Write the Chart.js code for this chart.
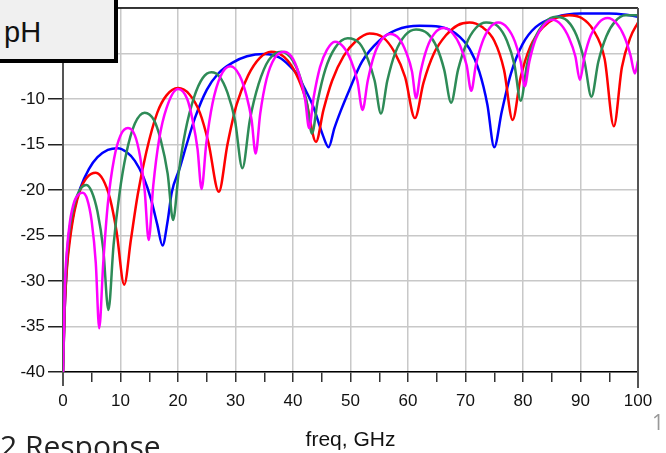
<!DOCTYPE html>
<html>
<head>
<meta charset="utf-8">
<script src="https://cdn.jsdelivr.net/npm/chart.js@4.4.1/dist/chart.umd.min.js"></script>
<style>
  html, body { margin: 0; padding: 0; background: #fff; }
  #wrap { position: relative; width: 666px; height: 453px; overflow: hidden; }
  #ph {
    position: absolute; left: -4px; top: -4px; width: 122px; height: 67px;
    box-sizing: border-box; background: #f0f0f0;
    border-right: 4px solid #000; border-bottom: 4px solid #000;
    font-family: "Liberation Sans", Arial, sans-serif; font-size: 29px; color: #111;
  }
  #ph span { position: absolute; left: 8px; top: 20px; line-height: 32px; }
  #resp {
    position: absolute; left: 0px; top: 426px; white-space: nowrap;
    font-family: "Open Sans", sans-serif; font-size: 30px; line-height: 40px; color: #222;
  }
  #pg {
    position: absolute; left: 652px; top: 408px;
    font-family: "Open Sans", sans-serif; font-size: 21px; line-height: 28px; color: #999;
  }
</style>
</head>
<body>
<div id="wrap">
  <canvas id="c" width="666" height="453"></canvas>
  <div id="ph"><span>pH</span></div>
  <div id="resp">2 Response</div>
  <div id="pg">1</div>
</div>
<script>
// valores (freq em GHz, resposta em dB)
const blueX = [0, 0.3, 0.7, 1.2, 2, 3, 4.5, 6, 7.8, 9.5, 11, 12.5, 14, 15.3, 16.4, 17.3, 18.2, 18.9, 20.3, 21.5, 23, 25, 27, 29.5, 32, 35, 37.5, 39.5, 40.6, 42, 43.5, 45.2, 46.2, 47.2, 48.3, 49.8, 52, 55, 58, 62, 65.5, 68.3, 70.7, 72.4, 73.8, 75, 76.3, 77.9, 79.9, 82.2, 85.7, 90, 95, 98, 100];
const blueY = [-40, -33, -28, -25, -22, -19.8, -17.7, -16.4, -15.6, -15.4, -15.8, -16.8, -18.6, -21, -23.8, -26.1, -23.4, -20.3, -17.6, -15, -12, -9, -7.2, -6, -5.3, -5.05, -5.4, -6.4, -7.2, -8.8, -10.8, -14, -15.3, -13.2, -11.3, -9, -5.9, -3.6, -2.4, -1.95, -2.05, -2.8, -4.5, -7, -10.6, -15.3, -11.4, -7.2, -4, -2.1, -1.0, -0.6, -0.6, -0.75, -0.95];

const redX = [0, 0.3, 0.7, 1.2, 2, 3, 4.2, 5.7, 7, 8.2, 9.3, 10.65, 11.8, 13, 14.5, 16.4, 18, 20, 22, 23.8, 25.3, 27.1, 28.6, 30.2, 32.2, 34.2, 36.2, 38.5, 40.5, 42.3, 44, 45.3, 46.8, 48.8, 51, 53.3, 55.6, 57.6, 59.5, 61.2, 62.7, 64.5, 66.6, 68.6, 70.7, 72.9, 75, 76.7, 78.2, 79.6, 81.3, 83.5, 85.7, 88, 90.2, 92.2, 94.2, 95.8, 97.2, 98.7, 100];
const redY = [-40, -33, -28.5, -25.5, -22.3, -20, -18.6, -18.1, -18.9, -21, -24.5, -30.4, -25.5, -20.5, -15.8, -11.5, -9.6, -8.8, -9.5, -11.5, -14.8, -20.2, -15, -10.6, -7.4, -5.5, -4.8, -5.4, -7.2, -10.2, -14.7, -11.2, -8, -5.3, -3.6, -2.8, -3.2, -4.8, -7.6, -12.1, -8.2, -5, -3, -1.9, -1.6, -2.1, -3.6, -6.8, -12.3, -7.6, -4.2, -2.1, -1.1, -0.8, -1.1, -2.4, -5.6, -13, -6.5, -3.2, -1.6];

const greenX = [0, 0.3, 0.7, 1.2, 2, 3, 4.1, 5, 6, 7, 7.9, 8.8, 9.8, 11, 12.5, 14.2, 15.8, 17, 18.2, 19.15, 20.1, 21.3, 22.8, 24.3, 25.8, 27.3, 28.6, 29.9, 31.2, 32.5, 34, 35.8, 38, 40, 41.4, 42.4, 43.3, 44.3, 45.6, 47.3, 49.5, 51.6, 53, 54.2, 55.3, 56.4, 57.8, 59.5, 61.4, 63.4, 65, 66.3, 67.5, 68.7, 70.1, 71.8, 73.6, 75.6, 77.2, 78.5, 79.6, 80.7, 82.1, 83.8, 85.7, 87.7, 89.3, 90.7, 91.9, 93.1, 94.5, 96, 97.8, 100];
const greenY = [-40, -32, -27, -24, -21.5, -19.9, -19.45, -20.2, -22.4, -26.5, -33.2, -26, -20.5, -16, -12.7, -11.5, -12.3, -14.5, -18.2, -23.3, -18.2, -13.5, -9.8, -7.7, -7.07, -7.6, -9.3, -12.3, -17.6, -12.3, -8.4, -5.7, -4.8, -5.8, -7.9, -10.4, -13.8, -10.2, -6.8, -4.4, -3.33, -3.9, -5.6, -8, -11.6, -8, -4.9, -3, -2.35, -2.8, -4.3, -6.8, -10.4, -6.8, -4, -2.2, -1.6, -2, -3.6, -6.2, -10.2, -6.2, -3.3, -1.6, -0.95, -1.4, -3, -5.9, -9.75, -5.9, -3.1, -1.5, -0.8, -0.8];

const magentaX = [0, 0.3, 0.7, 1.2, 2, 2.7, 3.4, 4.2, 5, 5.7, 6.3, 7, 7.8, 8.9, 10, 11.3, 12.5, 13.4, 14.2, 14.9, 15.7, 16.7, 18, 20, 21.6, 22.6, 23.4, 24.1, 24.9, 26, 27.4, 29.1, 30.7, 31.9, 32.8, 33.5, 34.3, 35.4, 36.8, 38.5, 40, 41.2, 42.1, 42.8, 43.6, 44.7, 45.9, 47.3, 48.8, 50.1, 51.2, 52.1, 53, 54.1, 55.4, 56.9, 58.5, 59.7, 60.7, 61.4, 62.2, 63.3, 64.6, 66.2, 67.8, 69.1, 70.2, 71, 71.8, 72.9, 74.2, 75.7, 77.3, 78.6, 79.6, 80.3, 81.1, 82.2, 83.6, 85.1, 86.7, 88, 89.1, 89.9, 90.7, 91.8, 93.2, 94.7, 96.3, 97.6, 98.7, 99.45, 100];
const magentaY = [-40, -31, -26.5, -23.5, -21.2, -20.5, -20.3, -21, -23.5, -28, -35.2, -28, -21.5, -16.5, -14, -13.2, -14, -16.3, -20, -25.5, -19.5, -14.5, -11, -8.9, -10, -12.5, -15.5, -19.9, -15, -10.5, -7.5, -6.4, -7.4, -9.6, -12.3, -16, -11.6, -7.8, -5.5, -4.8, -5.6, -7.6, -10, -13.2, -9.8, -6.5, -4.6, -3.7, -4.3, -5.8, -8, -11.2, -8, -5.2, -3.5, -2.85, -3.4, -4.9, -7, -9.9, -7, -4.4, -2.8, -2.2, -2.8, -4.2, -6.3, -9.1, -6.3, -3.8, -2.2, -1.6, -2.2, -3.7, -5.9, -8.6, -5.9, -3.4, -1.9, -1.3, -1.9, -3.3, -5.3, -7.9, -5.3, -3, -1.6, -1.1, -1.7, -3.1, -5.2, -7.2, -5.8];

const yTicks = [-40, -35, -30, -25, -20, -15, -10, -5, 0];

function pontos(xs, ys) {
    return xs.map((x, i) => ({ x: x, y: ys[i] }));
}

function serie(xs, ys, cor) {
    return {
        data: pontos(xs, ys),
        borderColor: cor,
        borderWidth: 2.5,
        pointRadius: 0,
        fill: false,
        cubicInterpolationMode: 'monotone'
    };
}

// moldura superior e direita do gráfico
const moldura = {
    id: 'moldura',
    afterDraw(chart) {
        const { ctx, chartArea } = chart;
        ctx.save();
        ctx.strokeStyle = '#000';
        ctx.lineWidth = 1.5;
        ctx.beginPath();
        ctx.moveTo(chartArea.left, chartArea.top);
        ctx.lineTo(chartArea.right, chartArea.top);
        ctx.stroke();
        ctx.strokeStyle = '#555';
        ctx.lineWidth = 2;
        ctx.beginPath();
        ctx.moveTo(chartArea.right, chartArea.top);
        ctx.lineTo(chartArea.right, chartArea.bottom + 16);
        ctx.stroke();
        ctx.beginPath();
        ctx.moveTo(chartArea.left, chartArea.bottom);
        ctx.lineTo(chartArea.left, chartArea.bottom + 14);
        ctx.stroke();
        ctx.restore();
    }
};

const fonteTicks = { family: '"Liberation Sans", Arial, sans-serif', size: 17 };

const ctx = document.getElementById('c');
const myChart = new Chart(ctx, {
    type: 'line',
    data: {
        datasets: [
            serie(magentaX, magentaY, '#ff00ff'),
            serie(greenX, greenY, '#2e8b57'),
            serie(redX, redY, '#ff0000'),
            serie(blueX, blueY, '#0000ff')
        ]
    },
    options: {
        responsive: false,
        animation: false,
        layout: { padding: { top: 8, right: 28, left: 0, bottom: 0 } },
        plugins: {
            legend: { display: false },
            tooltip: { enabled: false }
        },
        scales: {
            x: {
                type: 'linear',
                min: 0,
                max: 100,
                ticks: {
                    stepSize: 5,
                    autoSkip: false,
                    maxRotation: 0,
                    padding: 9,
                    color: '#111',
                    font: fonteTicks,
                    callback: (v) => (v % 10 === 0 ? v : '')
                },
                grid: {
                    color: (c) => (c.tick && c.tick.value % 10 === 0 ? '#c8c8c8' : 'rgba(0,0,0,0)'),
                    lineWidth: 1.5,
                    tickColor: '#333',
                    tickLength: 10
                },
                border: { color: '#000', width: 1.5 },
                title: {
                    display: true,
                    text: 'freq, GHz',
                    color: '#111',
                    font: { family: '"Liberation Sans", Arial, sans-serif', size: 21 },
                    padding: { top: 0, bottom: 0 }
                },
                afterFit(scale) { scale.height = 81; }
            },
            y: {
                min: -40,
                max: 0,
                afterBuildTicks(scale) { scale.ticks = yTicks.map((v) => ({ value: v })); },
                ticks: {
                    padding: 3,
                    color: '#111',
                    font: fonteTicks
                },
                grid: {
                    color: '#c8c8c8',
                    lineWidth: 1.5,
                    tickColor: '#222',
                    tickLength: 15
                },
                border: { color: '#555', width: 2 },
                afterFit(scale) {
                    scale.width = 63;
                    scale.paddingTop = 0;
                    scale.paddingBottom = 0;
                }
            }
        }
    },
    plugins: [moldura]
});
</script>
</body>
</html>
